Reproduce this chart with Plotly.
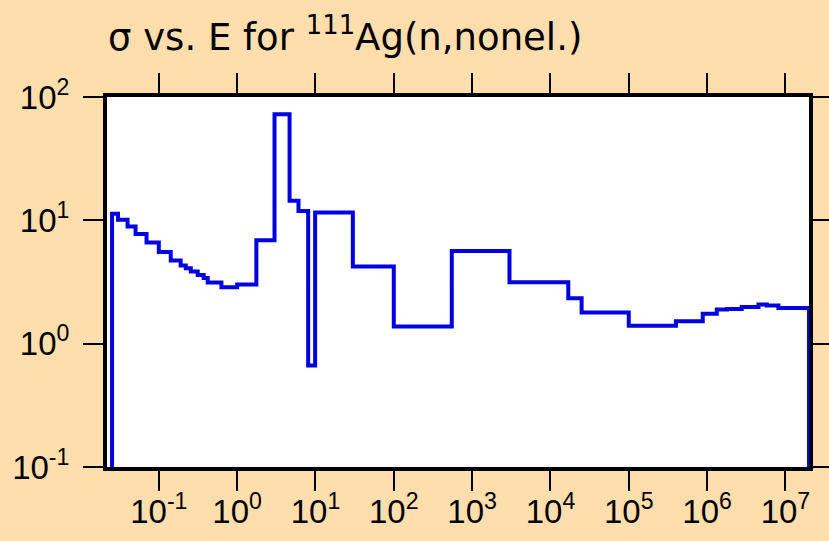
import math
import plotly.graph_objects as go

# Group-wise (n,nonelastic) cross section of Ag-111: bin edges in eV, sigma in barns
energy_edges = [0.0253, 0.0301, 0.0399, 0.0505, 0.0697, 0.1, 0.142, 0.19, 0.221,
                0.256, 0.314, 0.374, 0.421, 0.63, 1.0, 1.76, 3.0, 4.67, 6.07, 8.07,
                9.9, 30, 100, 550, 3000, 16900, 25000, 1e5, 4e5, 8.8e5, 1.33e6,
                1.79e6, 2.77e6, 4.53e6, 5.78e6, 8.15e6, 2e7]
sigma = [11.3, 10.1, 8.9, 7.76, 6.6, 5.53, 4.73, 4.31, 4.08, 3.84, 3.61, 3.40,
         3.13, 2.87, 3.02, 6.9, 72.4, 14.4, 11.9, 0.665, 11.55, 4.22, 1.38, 5.65,
         3.15, 2.34, 1.79, 1.40, 1.52, 1.75, 1.89, 1.91, 1.98, 2.08, 2.04, 1.95]

x_ticks = [1e-1, 1e0, 1e1, 1e2, 1e3, 1e4, 1e5, 1e6, 1e7]
x_labels = ["10<sup>-1</sup>", "10<sup>0</sup>", "10<sup>1</sup>", "10<sup>2</sup>",
            "10<sup>3</sup>", "10<sup>4</sup>", "10<sup>5</sup>", "10<sup>6</sup>",
            "10<sup>7</sup>"]
y_ticks = [1e-1, 1e0, 1e1, 1e2]
y_labels = ["10<sup>-1</sup>", "10<sup>0</sup>", "10<sup>1</sup>", "10<sup>2</sup>"]

x_range = [math.log10(0.0218), math.log10(2e7)]
y_range = [-1, 2]

# histogram outline: rise from below the axis, steps, then drop at the last edge
floor = 1e-3
xs = [energy_edges[0]] + energy_edges + [energy_edges[-1]]
ys = [floor] + sigma + [sigma[-1], floor]

fig = go.Figure()
fig.add_trace(go.Scatter(
    x=xs, y=ys, mode="lines", line_shape="hv",
    line=dict(color="#0000E0", width=4),
    hoverinfo="skip",
))
# same data on the label axes so they get drawn (kept invisible)
fig.add_trace(go.Scatter(
    x=xs, y=ys, xaxis="x2", yaxis="y2", mode="lines",
    line=dict(width=0), opacity=0, hoverinfo="skip",
))

tick_family = "Liberation Sans, Arial, Helvetica, sans-serif"
title_family = "DejaVu Sans, sans-serif"
tick_font = dict(family=tick_family, size=33, color="black")

# frame + long tick marks (no labels)
frame_axis = dict(
    type="log", automargin=False, showgrid=False, zeroline=False,
    showline=True, linecolor="black", linewidth=4, mirror="ticks",
    ticks="outside", ticklen=20, tickwidth=2, tickcolor="black",
    showticklabels=False,
)
# label-only overlay axes: invisible ticks set the label distance
label_axis = dict(
    type="log", automargin=False, showgrid=False, zeroline=False,
    showline=False, ticks="outside", tickwidth=1,
    tickcolor="rgba(0,0,0,0)", tickfont=tick_font, tickmode="array",
)

fig.update_layout(
    width=829, height=541,
    margin=dict(l=107, r=20, t=97, b=74),
    paper_bgcolor="#FFDEAD",
    plot_bgcolor="white",
    showlegend=False,
    title=dict(
        text="σ vs. E for <sup>111</sup>Ag(n,nonel.)",
        font=dict(family=title_family, size=37, color="black"),
        xref="container", x=108 / 829, xanchor="left",
        yref="container", y=1 - 37 / 541, yanchor="middle",
    ),
    xaxis=dict(frame_axis, range=x_range, tickmode="array", tickvals=x_ticks),
    yaxis=dict(frame_axis, range=y_range, tickmode="array", tickvals=y_ticks),
    xaxis2=dict(label_axis, overlaying="x", anchor="y2", side="bottom",
                range=x_range, tickvals=x_ticks, ticktext=x_labels, ticklen=15),
    yaxis2=dict(label_axis, overlaying="y", anchor="x2", side="left",
                range=y_range, tickvals=y_ticks, ticktext=y_labels, ticklen=30),
)

fig.write_html("out.html")
